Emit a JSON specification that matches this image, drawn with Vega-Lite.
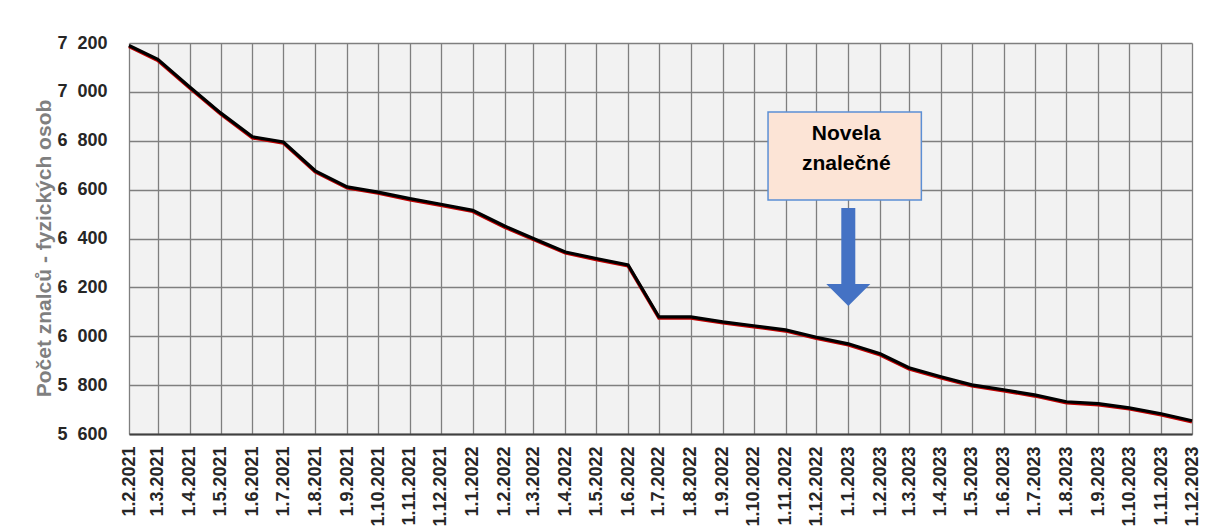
{
  "$schema": "https://vega.github.io/schema/vega-lite/v6.json",
  "width": 1063,
  "height": 391,
  "autosize": "none",
  "padding": {"left": 129, "top": 43, "right": 19, "bottom": 96},
  "background": "white",
  "config": {
    "view": {"fill": "#F2F2F2", "stroke": null},
    "font": "Liberation Sans",
    "axisX": {
      "labelAngle": -90,
      "labelFontSize": 18,
      "labelFontWeight": "bold",
      "labelColor": "#262626",
      "labelPadding": 12,
      "labelOverlap": false,
      "labelFlush": false,
      "ticks": false,
      "grid": true,
      "gridColor": "#7F7F7F",
      "gridWidth": 1.3,
      "gridOpacity": 1,
      "domainColor": "#404040",
      "domainWidth": 2
    },
    "axisY": {
      "titleColor": "#7F7F7F",
      "titleFontSize": 21,
      "titleFontWeight": "bold",
      "titlePadding": 2,
      "titleY": 205,
      "labelFontSize": 18,
      "labelFontWeight": "bold",
      "labelColor": "#262626",
      "labelPadding": 22,
      "ticks": false,
      "domain": false,
      "grid": true,
      "gridColor": "#7F7F7F",
      "gridWidth": 1.3,
      "gridOpacity": 1
    }
  },
  "datasets": {
    "series": [
      {"date": "2021-02-01", "count": 7190},
      {"date": "2021-03-01", "count": 7133},
      {"date": "2021-04-01", "count": 7020},
      {"date": "2021-05-01", "count": 6914},
      {"date": "2021-06-01", "count": 6816},
      {"date": "2021-07-01", "count": 6795},
      {"date": "2021-08-01", "count": 6677},
      {"date": "2021-09-01", "count": 6611},
      {"date": "2021-10-01", "count": 6590},
      {"date": "2021-11-01", "count": 6563},
      {"date": "2021-12-01", "count": 6540},
      {"date": "2022-01-01", "count": 6515},
      {"date": "2022-02-01", "count": 6451},
      {"date": "2022-03-01", "count": 6400},
      {"date": "2022-04-01", "count": 6345},
      {"date": "2022-05-01", "count": 6318},
      {"date": "2022-06-01", "count": 6292},
      {"date": "2022-07-01", "count": 6079},
      {"date": "2022-08-01", "count": 6079},
      {"date": "2022-09-01", "count": 6059},
      {"date": "2022-10-01", "count": 6043},
      {"date": "2022-11-01", "count": 6026},
      {"date": "2022-12-01", "count": 5996},
      {"date": "2023-01-01", "count": 5969},
      {"date": "2023-02-01", "count": 5928},
      {"date": "2023-03-01", "count": 5871},
      {"date": "2023-04-01", "count": 5834},
      {"date": "2023-05-01", "count": 5801},
      {"date": "2023-06-01", "count": 5781},
      {"date": "2023-07-01", "count": 5760},
      {"date": "2023-08-01", "count": 5732},
      {"date": "2023-09-01", "count": 5724},
      {"date": "2023-10-01", "count": 5707},
      {"date": "2023-11-01", "count": 5683},
      {"date": "2023-12-01", "count": 5654}
    ],
    "box": [{"start": "2022-10-15", "end": "2023-03-13", "low": 6558, "high": 6918}],
    "boxtext": [
      {"date": "2022-12-30", "count": 6826, "text": "Novela"},
      {"date": "2022-12-30", "count": 6704, "text": "znalečné"}
    ],
    "shaft": [{"date": "2023-01-01", "top": 6525, "bottom": 6210}],
    "head": [{"date": "2023-01-01", "count": 6169}]
  },
  "layer": [
    {
      "data": {"name": "series"},
      "mark": {"type": "line", "color": "#C00000", "strokeWidth": 3.5, "yOffset": 1},
      "encoding": {
        "x": {
          "field": "date", "type": "temporal",
          "scale": {"type": "utc", "domain": [{"year": 2021, "month": 2, "date": 1, "utc": true}, {"year": 2023, "month": 12, "date": 1, "utc": true}], "nice": false},
          "axis": {"title": null, "labelExpr": "utcFormat(datum.value, '%-d.%-m.%Y')", "tickCount": {"interval": "month", "step": 1}}
        },
        "y": {
          "field": "count", "type": "quantitative",
          "scale": {"domain": [5600, 7200], "nice": false, "zero": false},
          "axis": {"title": "Počet znalců - fyzických osob", "values": [5600, 5800, 6000, 6200, 6400, 6600, 6800, 7000, 7200], "labelExpr": "replace(format(datum.value, ','), ',', '\u2007')"}
        }
      }
    },
    {
      "data": {"name": "series"},
      "mark": {"type": "line", "color": "#000000", "strokeWidth": 3.2},
      "encoding": {
        "x": {"field": "date", "type": "temporal",
          "axis": {"title": null, "labelExpr": "utcFormat(datum.value, '%-d.%-m.%Y')", "tickCount": {"interval": "month", "step": 1}}},
        "y": {"field": "count", "type": "quantitative",
          "axis": {"title": "Počet znalců - fyzických osob", "values": [5600, 5800, 6000, 6200, 6400, 6600, 6800, 7000, 7200], "labelExpr": "replace(format(datum.value, ','), ',', '\u2007')"}}
      }
    },
    {
      "data": {"name": "box"},
      "mark": {"type": "rect", "fill": "#FCE4D6", "stroke": "#5B8FD5", "strokeWidth": 1.5},
      "encoding": {
        "x": {"field": "start", "type": "temporal",
          "axis": {"title": null, "labelExpr": "utcFormat(datum.value, '%-d.%-m.%Y')", "tickCount": {"interval": "month", "step": 1}}},
        "x2": {"field": "end"},
        "y": {"field": "low", "type": "quantitative",
          "axis": {"title": "Počet znalců - fyzických osob", "values": [5600, 5800, 6000, 6200, 6400, 6600, 6800, 7000, 7200], "labelExpr": "replace(format(datum.value, ','), ',', '\u2007')"}},
        "y2": {"field": "high"}
      }
    },
    {
      "data": {"name": "boxtext"},
      "mark": {"type": "text", "fontSize": 21, "fontWeight": "bold", "color": "#000000", "font": "Liberation Sans"},
      "encoding": {
        "x": {"field": "date", "type": "temporal",
          "axis": {"title": null, "labelExpr": "utcFormat(datum.value, '%-d.%-m.%Y')", "tickCount": {"interval": "month", "step": 1}}},
        "y": {"field": "count", "type": "quantitative",
          "axis": {"title": "Počet znalců - fyzických osob", "values": [5600, 5800, 6000, 6200, 6400, 6600, 6800, 7000, 7200], "labelExpr": "replace(format(datum.value, ','), ',', '\u2007')"}},
        "text": {"field": "text"}
      }
    },
    {
      "data": {"name": "shaft"},
      "mark": {"type": "rule", "color": "#4472C4", "strokeWidth": 14},
      "encoding": {
        "x": {"field": "date", "type": "temporal",
          "axis": {"title": null, "labelExpr": "utcFormat(datum.value, '%-d.%-m.%Y')", "tickCount": {"interval": "month", "step": 1}}},
        "y": {"field": "top", "type": "quantitative",
          "axis": {"title": "Počet znalců - fyzických osob", "values": [5600, 5800, 6000, 6200, 6400, 6600, 6800, 7000, 7200], "labelExpr": "replace(format(datum.value, ','), ',', '\u2007')"}},
        "y2": {"field": "bottom"}
      }
    },
    {
      "data": {"name": "head"},
      "mark": {"type": "point", "shape": "M-1,-0.5L1,-0.5L0,0.5Z", "size": 1936, "filled": true, "color": "#4472C4", "opacity": 1},
      "encoding": {
        "x": {"field": "date", "type": "temporal",
          "axis": {"title": null, "labelExpr": "utcFormat(datum.value, '%-d.%-m.%Y')", "tickCount": {"interval": "month", "step": 1}}},
        "y": {"field": "count", "type": "quantitative",
          "axis": {"title": "Počet znalců - fyzických osob", "values": [5600, 5800, 6000, 6200, 6400, 6600, 6800, 7000, 7200], "labelExpr": "replace(format(datum.value, ','), ',', '\u2007')"}}
      }
    }
  ]
}
